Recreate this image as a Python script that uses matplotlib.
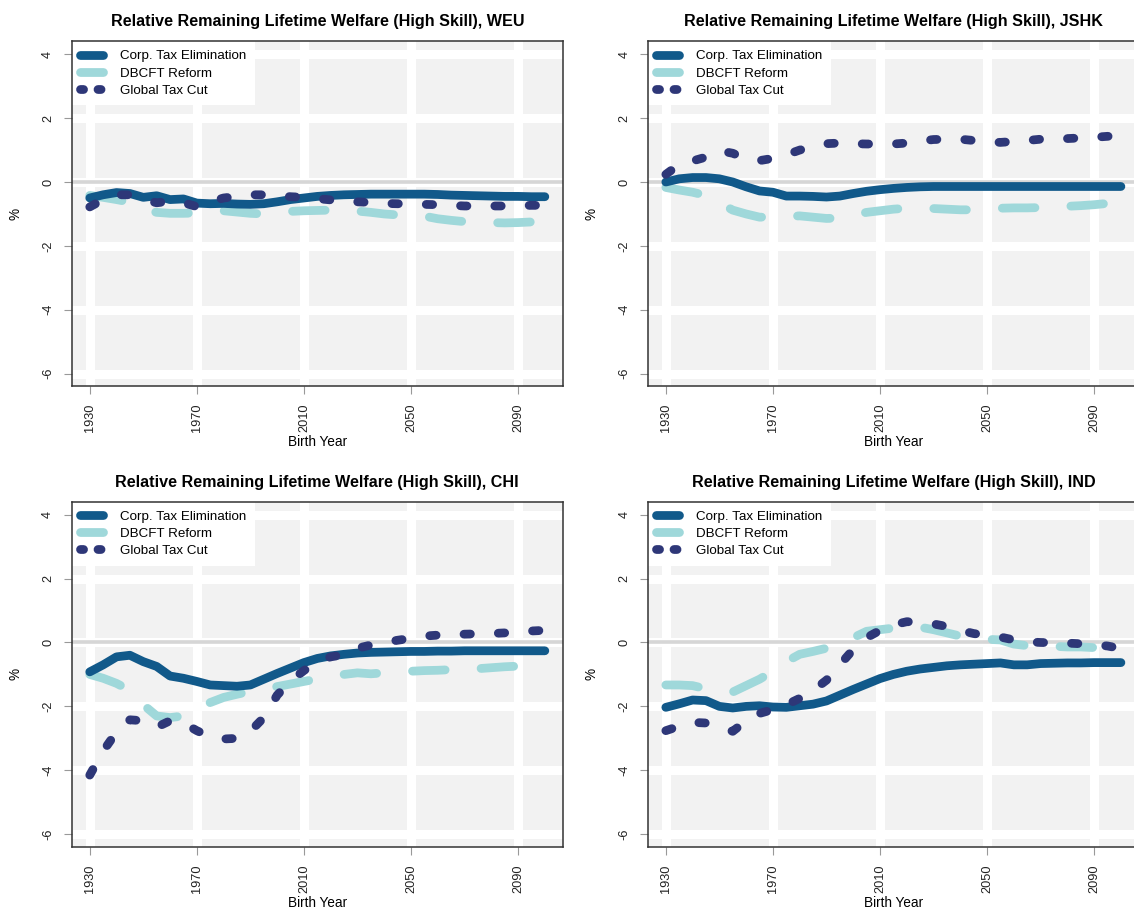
"""Relative remaining lifetime welfare (high skill) by region, 2x2 panels."""
import matplotlib
matplotlib.use("Agg")
import matplotlib.pyplot as plt
from matplotlib.lines import Line2D
import numpy as np

plt.rcParams.update({
    "font.family": ["Liberation Sans", "DejaVu Sans"],
    "lines.scale_dashes": False,
    "axes.unicode_minus": False,
})

# birth-year cohorts (5-year steps)
YEARS = np.arange(1930, 2101, 5)

WEU_CORP = [-0.50, -0.40, -0.33, -0.36, -0.48, -0.43, -0.55, -0.53, -0.66, -0.68,
            -0.67, -0.69, -0.70, -0.68, -0.62, -0.55, -0.50, -0.45, -0.42, -0.40,
            -0.39, -0.38, -0.38, -0.38, -0.38, -0.38, -0.39, -0.41, -0.42, -0.43,
            -0.44, -0.45, -0.45, -0.46, -0.46]
WEU_DBCFT = [-0.42, -0.48, -0.55, -0.63, -0.85, -0.95, -0.98, -0.98, -0.97, -0.93,
             -0.90, -0.94, -0.98, -1.00, -0.97, -0.92, -0.90, -0.89, -0.88, -0.88,
             -0.91, -0.95, -1.00, -1.03, -1.05, -1.07, -1.15, -1.20, -1.24, -1.26,
             -1.27, -1.28, -1.27, -1.25, -1.24]
WEU_GLOBAL = [-0.78, -0.55, -0.40, -0.40, -0.55, -0.65, -0.60, -0.65, -0.77, -0.62,
              -0.50, -0.45, -0.40, -0.40, -0.42, -0.46, -0.48, -0.52, -0.56, -0.58,
              -0.62, -0.64, -0.67, -0.68, -0.69, -0.70, -0.71, -0.73, -0.75, -0.75,
              -0.75, -0.75, -0.74, -0.73, -0.73]

JSHK_CORP = [0.00, 0.10, 0.14, 0.14, 0.10, 0.00, -0.15, -0.28, -0.32, -0.44,
             -0.44, -0.45, -0.47, -0.44, -0.36, -0.29, -0.24, -0.20, -0.17, -0.15,
             -0.14, -0.14, -0.14, -0.14, -0.14, -0.14, -0.14, -0.14, -0.14, -0.14,
             -0.14, -0.14, -0.14, -0.14, -0.14]
JSHK_DBCFT = [-0.17, -0.25, -0.32, -0.42, -0.65, -0.88, -1.00, -1.10, -1.10, -1.08,
              -1.06, -1.10, -1.14, -1.13, -1.03, -0.95, -0.90, -0.85, -0.82, -0.82,
              -0.83, -0.85, -0.87, -0.87, -0.85, -0.82, -0.81, -0.81, -0.80, -0.78,
              -0.76, -0.74, -0.71, -0.67, -0.64]
JSHK_GLOBAL = [0.24, 0.55, 0.66, 0.78, 0.98, 0.90, 0.72, 0.67, 0.74, 0.85,
               1.00, 1.10, 1.20, 1.22, 1.20, 1.19, 1.19, 1.19, 1.22, 1.28,
               1.33, 1.34, 1.34, 1.30, 1.26, 1.24, 1.27, 1.30, 1.34, 1.35,
               1.36, 1.38, 1.40, 1.43, 1.44]

CHI_CORP = [-0.92, -0.70, -0.45, -0.40, -0.60, -0.75, -1.05, -1.12, -1.22, -1.33,
            -1.35, -1.37, -1.33, -1.15, -0.97, -0.80, -0.63, -0.50, -0.42, -0.37,
            -0.33, -0.31, -0.30, -0.29, -0.28, -0.28, -0.27, -0.27, -0.26, -0.26,
            -0.26, -0.26, -0.26, -0.26, -0.26]
CHI_DBCFT = [-1.00, -1.12, -1.28, -1.50, -1.95, -2.30, -2.35, -2.30, -2.10, -1.88,
             -1.72, -1.62, -1.53, -1.45, -1.38, -1.30, -1.22, -1.14, -1.05, -1.00,
             -0.95, -0.98, -0.95, -0.92, -0.90, -0.88, -0.87, -0.85, -0.84, -0.82,
             -0.79, -0.76, -0.74, -0.71, -0.69]
CHI_GLOBAL = [-4.15, -3.40, -2.80, -2.42, -2.45, -2.65, -2.45, -2.52, -2.76, -2.95,
              -3.02, -3.00, -2.78, -2.35, -1.65, -1.20, -0.88, -0.60, -0.45, -0.38,
              -0.18, -0.08, 0.00, 0.07, 0.13, 0.20, 0.23, 0.25, 0.26, 0.27,
              0.28, 0.30, 0.33, 0.36, 0.38]

IND_CORP = [-2.03, -1.92, -1.80, -1.82, -2.00, -2.05, -2.00, -1.98, -2.02, -2.03,
            -1.98, -1.93, -1.83, -1.65, -1.47, -1.30, -1.13, -1.00, -0.90, -0.83,
            -0.78, -0.73, -0.70, -0.68, -0.66, -0.64, -0.70, -0.70, -0.66, -0.65,
            -0.64, -0.64, -0.63, -0.63, -0.63]
IND_DBCFT = [-1.33, -1.33, -1.35, -1.45, -1.55, -1.55, -1.35, -1.15, -0.90, -0.60,
             -0.37, -0.28, -0.18, -0.08, 0.15, 0.35, 0.40, 0.45, 0.50, 0.48,
             0.40, 0.30, 0.20, 0.14, 0.10, 0.08, -0.05, -0.10, -0.10, -0.12,
             -0.14, -0.14, -0.16, -0.18, -0.20]
IND_GLOBAL = [-2.76, -2.62, -2.50, -2.52, -2.65, -2.78, -2.45, -2.22, -2.10, -1.95,
              -1.75, -1.50, -1.18, -0.70, -0.22, 0.15, 0.38, 0.55, 0.65, 0.64,
              0.58, 0.50, 0.38, 0.28, 0.22, 0.17, 0.08, 0.02, 0.00, -0.01,
              -0.02, -0.04, -0.07, -0.11, -0.19]

SERIES_NAMES = ["Corp. Tax Elimination", "DBCFT Reform", "Global Tax Cut"]
XTICKS = [1930, 1970, 2010, 2050, 2090]
YTICKS = [-6, -4, -2, 0, 2, 4]

C_CORP = "#11598a"
C_DBCFT = "#9fd8da"
C_GLOBAL = "#2e3778"
LW = 6.3
DASH_DBCFT = (23.5, 25.9)
DASH_GLOBAL = (4.6, 20.1)


def draw_panel(fig, rect, region, corp, dbcft, glob):
    ax = fig.add_axes(rect)
    ax.set_facecolor("#f2f2f2")
    ax.set_xlim(1923.2, 2106.8)
    ax.set_ylim(-6.4, 4.4)

    # thick white grid + light grey zero line
    for x in XTICKS:
        ax.axvline(x, color="white", lw=6.5, zorder=0.5)
    for y in YTICKS:
        ax.axhline(y, color="white", lw=6.5, zorder=0.5)
    ax.axhline(0, color="#d6d6d6", lw=2.6, zorder=0.6)

    ax.plot(YEARS, dbcft, color=C_DBCFT, lw=LW, dashes=DASH_DBCFT,
            dash_capstyle="round", dash_joinstyle="round", zorder=2.0)
    ax.plot(YEARS, corp, color=C_CORP, lw=LW, solid_capstyle="round",
            solid_joinstyle="round", zorder=2.1)
    ax.plot(YEARS, glob, color=C_GLOBAL, lw=LW, dashes=DASH_GLOBAL,
            dash_capstyle="round", dash_joinstyle="round", zorder=2.2)

    handles = [
        Line2D([], [], color=C_CORP, lw=LW, solid_capstyle="round"),
        Line2D([], [], color=C_DBCFT, lw=LW, solid_capstyle="round"),
        Line2D([], [], color=C_GLOBAL, lw=LW, dashes=(2.2, 10.4),
               dash_capstyle="round"),
    ]
    leg = ax.legend(handles, SERIES_NAMES, loc="upper left",
                    bbox_to_anchor=(0, 1), borderaxespad=0, frameon=True,
                    fancybox=False, framealpha=1, edgecolor="none",
                    facecolor="white", fontsize=9.6, handlelength=1.7,
                    handletextpad=1.3, borderpad=0.65, labelspacing=0.36)
    leg.set_zorder(2.4)

    ax.set_xticks(XTICKS)
    ax.set_yticks(YTICKS)
    ax.tick_params(axis="both", length=5.5, width=0.8, color="#999999",
                   labelcolor="#222222", labelsize=9.2, pad=7)
    ax.tick_params(axis="x", labelrotation=90)
    ax.tick_params(axis="y", labelrotation=90)
    for lbl in ax.get_yticklabels():
        lbl.set_va("center")
    for sp in ax.spines.values():
        sp.set_color("#333333")
        sp.set_linewidth(1.1)
        sp.set_zorder(3)

    ax.set_title(f"Relative Remaining Lifetime Welfare (High Skill), {region}",
                 fontsize=11.6, fontweight="bold", pad=11)
    ax.set_xlabel("Birth Year", fontsize=9.8)
    ax.xaxis.set_label_coords(0.5, -0.141)
    ax.set_ylabel("%", fontsize=9.8)
    ax.yaxis.set_label_coords(-0.114, 0.5)
    ax.yaxis.label.set_va("center")
    return ax


def main():
    fig = plt.figure(figsize=(11.34, 9.13), dpi=100)
    panels = [
        ("WEU", WEU_CORP, WEU_DBCFT, WEU_GLOBAL, [0.0631, 0.5767, 0.4334, 0.3779]),
        ("JSHK", JSHK_CORP, JSHK_DBCFT, JSHK_GLOBAL, [0.5711, 0.5767, 0.4334, 0.3779]),
        ("CHI", CHI_CORP, CHI_DBCFT, CHI_GLOBAL, [0.0631, 0.0723, 0.4334, 0.3780]),
        ("IND", IND_CORP, IND_DBCFT, IND_GLOBAL, [0.5711, 0.0723, 0.4334, 0.3780]),
    ]
    for region, corp, dbcft, glob, rect in panels:
        draw_panel(fig, rect, region, corp, dbcft, glob)
    fig.savefig("out.png", dpi=100)


if __name__ == "__main__":
    main()
